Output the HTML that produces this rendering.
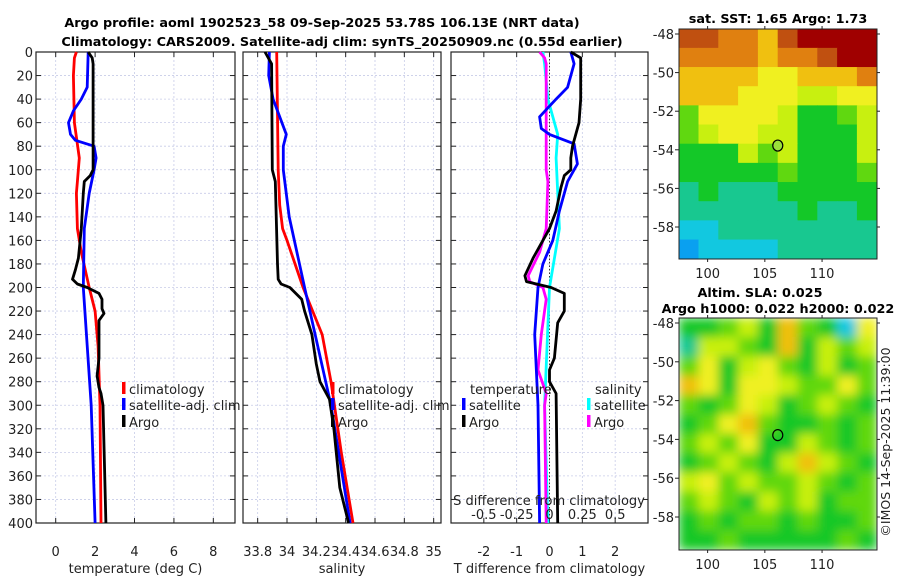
<!DOCTYPE html>
<html><head><meta charset="utf-8"><style>
html,body{margin:0;padding:0;background:#fff;}
svg{display:block;font-family:"DejaVu Sans","Liberation Sans",sans-serif;}
</style></head><body>
<svg id="fig" width="900" height="580" viewBox="0 0 900 580">
<g id="titles" font-weight="bold" font-size="12.8" text-anchor="middle" fill="#000">
<text x="322" y="27">Argo profile: aoml 1902523_58 09-Sep-2025 53.78S 106.13E (NRT data)</text>
<text x="342" y="46">Climatology: CARS2009. Satellite-adj clim: synTS_20250909.nc (0.55d earlier)</text>
<text x="778" y="23">sat. SST: 1.65 Argo: 1.73</text>
<text x="760" y="297">Altim. SLA: 0.025</text>
<text x="778" y="313">Argo h1000: 0.022 h2000: 0.022</text>
</g>
<text x="0" y="0" transform="translate(890,442) rotate(-90)" text-anchor="middle" font-size="12.5" fill="#222">©IMOS 14-Sep-2025 11:39:00</text>
<g id="plots"></g>
</svg>
<script>
// ---------- data ----------
const depthTicks = [0,20,40,60,80,100,120,140,160,180,200,220,240,260,280,300,320,340,360,380,400];
const tempTicks = [0,2,4,6,8];
const salTicks = [33.8,34,34.2,34.4,34.6,34.8,35];
const salTickLabels = ["33.8","34","34.2","34.4","34.6","34.8","35"];
const tdiffTicks = [-2,-1,0,1,2];
const sdiffTicks = [-0.5,-0.25,0,0.25,0.5];
const sdiffTickLabels = ["-0.5","-0.25","0","0.25","0.5"];

const argoTempDepth = [0,5,10,100,105,110,120,150,175,185,193,197,200,205,210,218,222,228,260,275,285,290,300,400];
const argoTemp =      [1.65,1.85,1.9,1.9,1.75,1.45,1.4,1.3,1.15,1.0,0.85,1.1,1.6,2.2,2.35,2.35,2.45,2.2,2.2,2.1,2.2,2.3,2.4,2.55];
const climTempDepth = [0,5,20,60,90,110,120,150,170,200,220,250,300,400];
const climTemp =      [1.05,0.95,0.9,0.95,1.2,1.1,1.05,1.1,1.3,1.7,2.0,2.15,2.25,2.3];
const satTempDepth = [0,30,40,50,60,70,75,80,90,100,120,150,200,300,400];
const satTemp =      [1.65,1.6,1.3,0.9,0.65,0.75,1.0,1.95,2.05,1.95,1.7,1.45,1.4,1.8,2.0];

const argoSalDepth = [0,10,100,110,180,193,197,200,210,220,240,265,280,295,320,370,400];
const argoSal =      [33.85,33.895,33.9,33.92,33.935,33.94,33.96,34.02,34.1,34.12,34.17,34.2,34.225,34.29,34.32,34.36,34.42];
const climSalDepth = [0,100,130,150,160,200,240,280,340,400];
const climSal =      [33.93,33.94,33.95,33.97,34.0,34.11,34.24,34.3,34.37,34.45];
const satSalDepth = [0,20,40,55,70,80,100,140,200,300,400];
const satSal =      [33.88,33.875,33.905,33.95,33.995,33.975,33.975,34.015,34.12,34.3,34.43];

const argoTdiffDepth = [0,5,40,60,80,90,100,105,115,135,150,175,190,195,200,205,215,220,230,260,270,280,290,400];
const argoTdiff =      [0.65,0.95,0.95,0.9,0.7,0.65,0.65,0.45,0.35,0.2,0.0,-0.5,-0.75,-0.7,0.05,0.45,0.45,0.45,0.25,0.15,0.0,0.0,0.2,0.25];
const satTdiffDepth = [0,10,30,40,55,65,70,78,95,110,135,160,180,200,240,300,400];
const satTdiff =      [0.65,0.75,0.55,0.2,-0.3,-0.25,0.0,0.75,0.85,0.55,0.3,0.1,-0.2,-0.35,-0.45,-0.35,-0.3];
const satSdiffDepth = [0,10,40,70,90,150,200,300,400];
const satSdiff =      [-0.05,-0.0375,-0.0125,0.0625,0.05,0.075,0.0,-0.0375,-0.0125];
const argoSdiffDepth = [0,5,10,100,110,150,170,190,195,200,210,240,270,290,300,400];
const argoSdiff =      [-0.075,-0.0375,-0.025,-0.025,-0.0125,-0.025,-0.075,-0.1625,-0.15,-0.05,-0.025,-0.0625,-0.0875,-0.025,-0.0375,-0.025];

// map colour-index grids (rows north->south, cols west->east)
const sstGrid = [
[9,9,8,8,7,9,10,10,10,10],
[8,8,8,8,7,8,8,9,10,10],
[7,7,7,7,6,6,7,7,7,8],
[7,7,7,6,6,6,5,5,6,6],
[4,6,6,6,6,5,3,3,4,5],
[4,5,6,6,5,5,3,3,3,5],
[3,3,3,5,4,5,3,3,3,5],
[3,3,3,3,3,4,3,3,3,4],
[2,3,2,2,2,3,3,3,3,3],
[2,2,2,2,2,2,3,2,2,3],
[1,1,2,2,2,2,2,2,2,2],
[0,1,1,1,1,2,2,2,2,2]];
const slaGrid = [
[3,3,4,5,3,7,4,3,1,6],
[2,5,5,4,3,7,3,5,4,5],
[4,6,3,5,6,4,3,5,3,4],
[7,6,3,6,6,5,4,4,6,4],
[4,3,4,6,5,3,4,5,4,3],
[3,4,6,7,4,3,3,4,3,4],
[4,5,4,6,3,3,5,4,3,4],
[3,4,5,4,3,5,7,5,4,3],
[5,6,4,5,4,4,5,4,3,4],
[4,5,4,3,5,4,5,3,4,4],
[3,4,3,4,4,3,4,3,3,4],
[3,3,4,3,3,3,3,3,4,3]];
const palette = ["#0aa0f0","#12c8e0","#18c890","#14c828","#60d810","#c8f010","#f0f020","#f0c010","#e08010","#c05010","#a00000"];
const latTicks = [-48,-50,-52,-54,-56,-58];
const lonTicks = [100,105,110];
const argoLon = 106.13, argoLat = -53.78;

// ---------- drawing ----------
const NS = "http://www.w3.org/2000/svg";
const root = document.getElementById('plots');
function mk(tag, attrs, parent){ const e=document.createElementNS(NS,tag); for(const k in attrs) e.setAttribute(k,attrs[k]); (parent||root).appendChild(e); return e; }

const yTop=52, yBot=523;
const yScale = d => yTop + (yBot-yTop)*d/400;

function panel(name, x0, x1, xmin, xmax, xticks, xlabels, title, showY, gridX){
  const g = mk('g',{});
  
  
  const xs = v => x0 + (x1-x0)*(v-xmin)/(xmax-xmin);
  depthTicks.forEach(d=>{ const l=mk('line',{x1:x0,x2:x1,y1:yScale(d),y2:yScale(d),stroke:'#c8cce8','stroke-width':0.8,'stroke-dasharray':'2,2'},g);
     
    mk('line',{x1:x0,x2:x0+5,y1:yScale(d),y2:yScale(d),stroke:'#222'},g);
    mk('line',{x1:x1-5,x2:x1,y1:yScale(d),y2:yScale(d),stroke:'#222'},g);
    if(showY){ const t=mk('text',{x:x0-3,y:yScale(d)+5,'text-anchor':'end','font-size':13,fill:'#222'},g); t.textContent=d;
        }
  });
  gridX.forEach((v,i)=>{ const l=mk('line',{x1:xs(v),x2:xs(v),y1:yTop,y2:yBot,stroke:'#c8cce8','stroke-width':0.8,'stroke-dasharray':'2,2'},g);
      });
  xticks.forEach((v,i)=>{
    mk('line',{x1:xs(v),x2:xs(v),y1:yBot-5,y2:yBot,stroke:'#222'},g);
    mk('line',{x1:xs(v),x2:xs(v),y1:yTop,y2:yTop+5,stroke:'#222'},g);
    const t=mk('text',{x:xs(v),y:556,'text-anchor':'middle','font-size':13,fill:'#222'},g); t.textContent=xlabels[i];
     
  });
  const b=mk('rect',{x:x0,y:yTop,width:x1-x0,height:yBot-yTop,fill:'none',stroke:'#222','stroke-width':1.2},g);
   
  const tt=mk('text',{x:(x0+x1)/2,y:573,'text-anchor':'middle','font-size':13,fill:'#222'},g); tt.textContent=title;
   
  return {g,xs};
}
function series(p, depths, vals, color, name, fn){
  const pts = depths.map((d,i)=> (fn?p.xs(fn(vals[i])):p.xs(vals[i])).toFixed(1)+','+yScale(d).toFixed(1)).join(' ');
  const l = mk('polyline',{points:pts,fill:'none',stroke:color,'stroke-width':2.8,'stroke-linejoin':'round'},p.g);
  
  
}
function legend(g, x, y, color, label, name){
  mk('rect',{x:x-2,y:y-7,width:3.5,height:12,fill:color},g);
  const t=mk('text',{x:x+5,y:y+5,'font-size':13,fill:'#222'},g); t.textContent=label;
  
  
}

const p1 = panel('temperature-panel',36,235,-1.0,9.1,tempTicks,tempTicks.map(String),'temperature (deg C)',true,tempTicks);
series(p1, climTempDepth, climTemp, '#ff0000', 'climatology-temp-line');
series(p1, satTempDepth, satTemp, '#0000ff', 'satellite-temp-line');
series(p1, argoTempDepth, argoTemp, '#000000', 'argo-temp-line');
legend(p1.g,124,389,'#ff0000','climatology','legend-climatology');
legend(p1.g,124,405,'#0000ff','satellite-adj. clim','legend-satellite');
legend(p1.g,124,422,'#000000','Argo','legend-argo');

const p2 = panel('salinity-panel',243,441,33.70,35.05,salTicks,salTickLabels,'salinity',false,salTicks);
series(p2, climSalDepth, climSal, '#ff0000', 'climatology-sal-line');
series(p2, satSalDepth, satSal, '#0000ff', 'satellite-sal-line');
series(p2, argoSalDepth, argoSal, '#000000', 'argo-sal-line');
legend(p2.g,333,389,'#ff0000','climatology','legend-climatology-sal');
legend(p2.g,333,405,'#0000ff','satellite-adj. clim','legend-satellite-sal');
legend(p2.g,333,422,'#000000','Argo','legend-argo-sal');

const p3 = panel('difference-panel',451,648,-3.0,3.0,tdiffTicks,tdiffTicks.map(String),'T difference from climatology',false,tdiffTicks);
mk('line',{x1:p3.xs(0),x2:p3.xs(0),y1:yTop,y2:yBot,stroke:'#333','stroke-width':1,'stroke-dasharray':'1.5,2'},p3.g);
series(p3, satSdiffDepth, satSdiff, '#00ffff', 'satellite-sdiff-line', v=>v*4);
series(p3, argoSdiffDepth, argoSdiff, '#ff00ff', 'argo-sdiff-line', v=>v*4);
series(p3, satTdiffDepth, satTdiff, '#0000ff', 'satellite-tdiff-line');
series(p3, argoTdiffDepth, argoTdiff, '#000000', 'argo-tdiff-line');
{ const t=mk('text',{x:470,y:394,'font-size':13,fill:'#222'},p3.g); t.textContent='temperature';
   
  const s=mk('text',{x:595,y:394,'font-size':13,fill:'#222'},p3.g); s.textContent='salinity';
    }
legend(p3.g,464,405,'#0000ff','satellite','legend-temp-satellite');
legend(p3.g,464,422,'#000000','Argo','legend-temp-argo');
legend(p3.g,589,405,'#00ffff','satellite','legend-sal-satellite');
legend(p3.g,589,422,'#ff00ff','Argo','legend-sal-argo');
{ const t=mk('text',{x:549,y:505,'text-anchor':'middle','font-size':13,fill:'#222'},p3.g); t.textContent='S difference from climatology';
   
  sdiffTicks.forEach((v,i)=>{ const s=mk('text',{x:p3.xs(v*4),y:519,'text-anchor':'middle','font-size':13,fill:'#222'},p3.g); s.textContent=sdiffTickLabels[i];
      }); }

const lonMin=97.5, lonMax=114.8;
function mapPanel(name, grid, top, bot, lat48y, lat58y, blur){
  const g=mk('g',{});
  
  
  const x0=679, x1=877;
  const ly = lat => lat48y + (lat58y-lat48y)*(lat+48)/(-10);
  const lx = lon => x0 + (x1-x0)*(lon-lonMin)/(lonMax-lonMin);
  if(blur){ const cp=mk('clipPath',{id:'clip'+name},g); mk('rect',{x:x0,y:top,width:x1-x0,height:bot-top},cp); }
  const cg = mk('g', blur?{filter:'url(#blur)','clip-path':'url(#clip'+name+')'}:{}, g);
  const rows=grid.length, cols=grid[0].length, cw=(x1-x0)/cols, rh=(bot-top)/rows;
  grid.forEach((row,r)=>row.forEach((v,c)=>{
    const cell=mk('rect',{x:x0+c*cw-0.3,y:top+r*rh-0.3,width:cw+0.6,height:rh+0.6,fill:palette[v]},cg);
    
    
  }));
  mk('rect',{x:x0,y:top,width:x1-x0,height:bot-top,fill:'none',stroke:'#222'},g);
  latTicks.forEach(l=>{ mk('line',{x1:x0-4,x2:x0,y1:ly(l),y2:ly(l),stroke:'#222'},g); mk('line',{x1:x1,x2:x1+3,y1:ly(l),y2:ly(l),stroke:'#222'},g);
    const t=mk('text',{x:x0-5,y:ly(l)+5,'text-anchor':'end','font-size':13,fill:'#222'},g); t.textContent=l;
      });
  lonTicks.forEach(l=>{ mk('line',{x1:lx(l),x2:lx(l),y1:bot,y2:bot+3,stroke:'#222'},g); mk('line',{x1:lx(l),x2:lx(l),y1:top-3,y2:top,stroke:'#222'},g);
    const t=mk('text',{x:lx(l),y:bot+19,'text-anchor':'middle','font-size':13,fill:'#222'},g); t.textContent=l;
      });
  const m=mk('ellipse',{cx:lx(argoLon),cy:ly(argoLat),rx:5,ry:5.5,fill:blur?'none':'#9be03a',stroke:'#000','stroke-width':1.2},g);
  
  
}
const defs=mk('defs',{}); const f=mk('filter',{id:'blur',x:'-5%',y:'-5%',width:'110%',height:'110%'},defs); mk('feGaussianBlur',{stdDeviation:5},f);
mapPanel('sst-map', sstGrid, 29, 259, 34, 227, false);
mapPanel('sla-map', slaGrid, 318, 550, 323, 517, true);
</script>
</body></html>
